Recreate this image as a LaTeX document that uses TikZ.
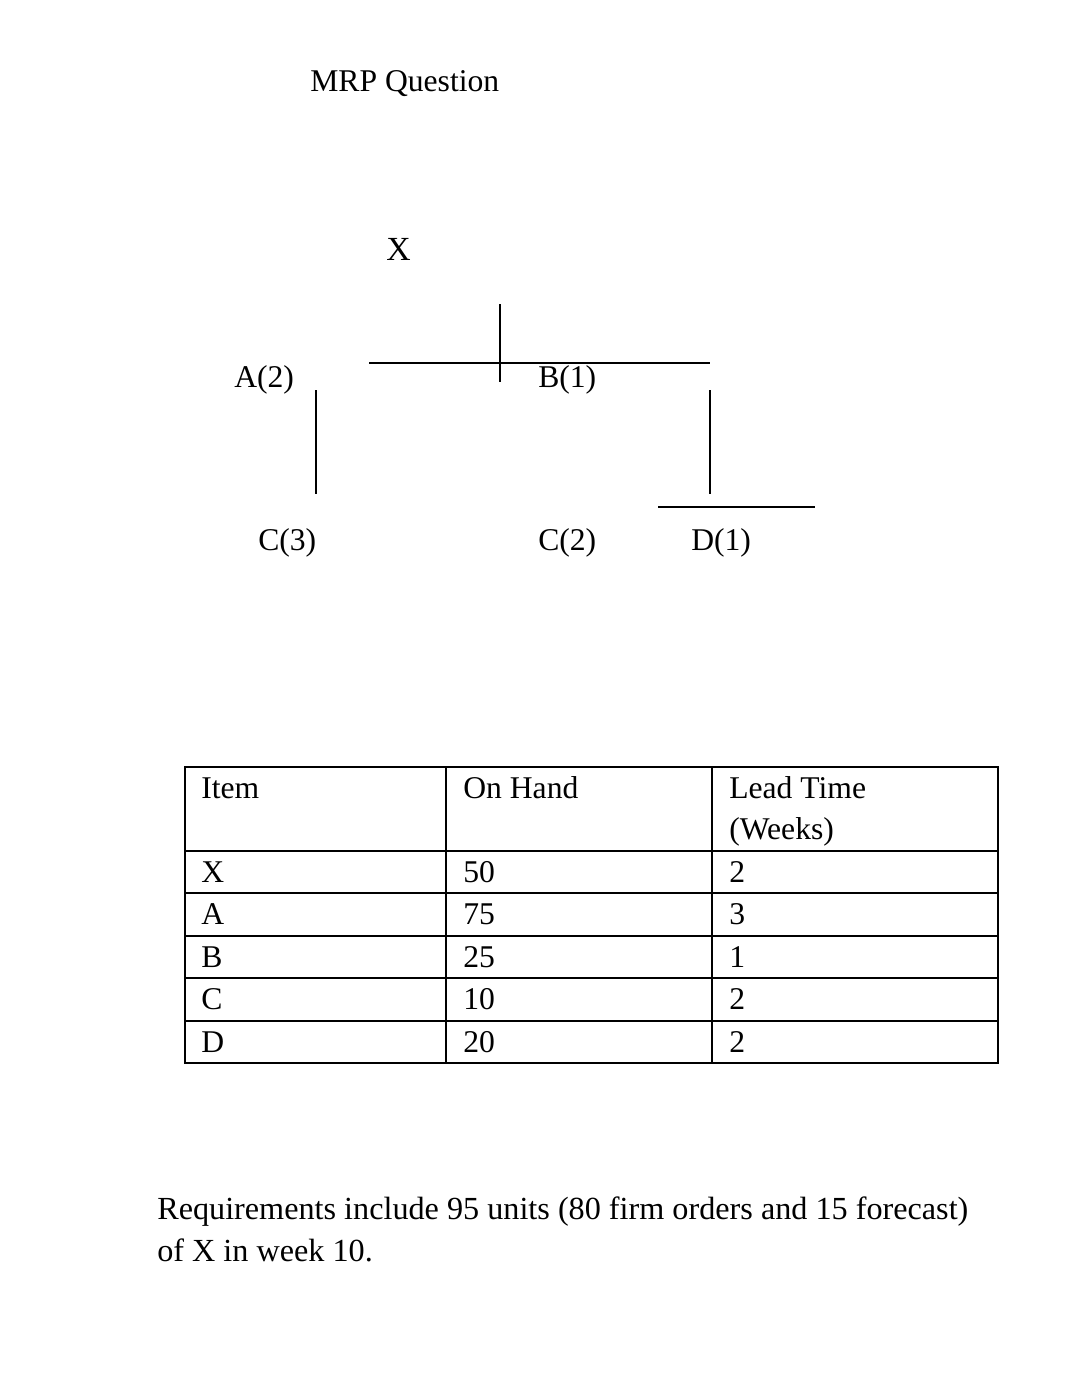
\documentclass[tikz,border=0pt]{standalone}
\usepackage{fontspec}
\setmainfont{Liberation Serif}
\usetikzlibrary{positioning}
\tikzset{
    label/.style={
    anchor=base west,inner sep=0pt,font=\fontsize{22.5}{27}\selectfont
    },
    top/.style={
    anchor=base west,inner sep=0pt,font=\fontsize{24}{29}\selectfont
    },
    cell/.style={
    anchor=base west,inner sep=0pt,font=\fontsize{22.5}{27}\selectfont
    },
    note/.style={
    anchor=base west,inner sep=0pt,font=\fontsize{22.9}{28}\selectfont
    },
    bar/.style={
    draw=black,line width=1.3pt
    },
    grid/.style={
    draw=black,line width=0.8pt
    },
}
\begin{document}
\begin{tikzpicture}[x=0.025cm, y=-0.025cm]
   \useasboundingbox[fill=white] (0,0) rectangle (1080,1381);

   %title
   \node[label] (title) at (310,91) {MRP Question};

   %tree
   \node[top] (x) at (386,260) {X};
   \node[label] (a) at (234,387) {A(2)};
   \node[label] (b) at (538,387) {B(1)};
   \node[label] (c3) at (258,550) {C(3)};
   \node[label] (c2) at (538,550) {C(2)};
   \node[label] (d) at (691,550) {D(1)};

   \coordinate (xtop) at (500,304);
   \coordinate (xbot) at (500,382);
   \coordinate (hl) at (369,363);
   \coordinate (hr) at (710,363);
   \coordinate (atop) at (316,390);
   \coordinate (abot) at (316,494);
   \coordinate (btop) at (710,390);
   \coordinate (bbot) at (710,494);
   \coordinate (dl) at (658,507);
   \coordinate (dr) at (815,507);

   \path[bar]
    (xtop) edge (xbot)
    (hl) edge (hr)
    (atop) edge (abot)
    (btop) edge (bbot)
    (dl) edge (dr);

   %table
   \draw[grid] (185,767) rectangle (998,1063);
   \draw[grid] (446,767) -- (446,1063);
   \draw[grid] (712,767) -- (712,1063);
   \draw[grid] (185,851) -- (998,851);
   \draw[grid] (185,893) -- (998,893);
   \draw[grid] (185,936) -- (998,936);
   \draw[grid] (185,978) -- (998,978);
   \draw[grid] (185,1021) -- (998,1021);

   %header
   \node[cell] (hitem) at (201,798) {Item};
   \node[cell] (hhand) at (463,798) {On Hand};
   \node[cell] (hlead) at (729,798) {Lead Time};
   \node[cell] (hweeks) at (729,839) {(Weeks)};

   %rows
   \node[cell] (ix) at (201,882) {X};
   \node[cell] (nx) at (463,882) {50};
   \node[cell] (lx) at (729,882) {2};
   \node[cell] (ia) at (201,924) {A};
   \node[cell] (na) at (463,924) {75};
   \node[cell] (la) at (729,924) {3};
   \node[cell] (ib) at (201,967) {B};
   \node[cell] (nb) at (463,967) {25};
   \node[cell] (lb) at (729,967) {1};
   \node[cell] (ic) at (201,1009) {C};
   \node[cell] (nc) at (463,1009) {10};
   \node[cell] (lc) at (729,1009) {2};
   \node[cell] (id) at (201,1052) {D};
   \node[cell] (nd) at (463,1052) {20};
   \node[cell] (ld) at (729,1052) {2};

   %requirements
   \node[note] (req1) at (157,1219) {Requirements include 95 units (80 firm orders and 15 forecast)};
   \node[note] (req2) at (157,1261) {of X in week 10.};
\end{tikzpicture}
\end{document}
